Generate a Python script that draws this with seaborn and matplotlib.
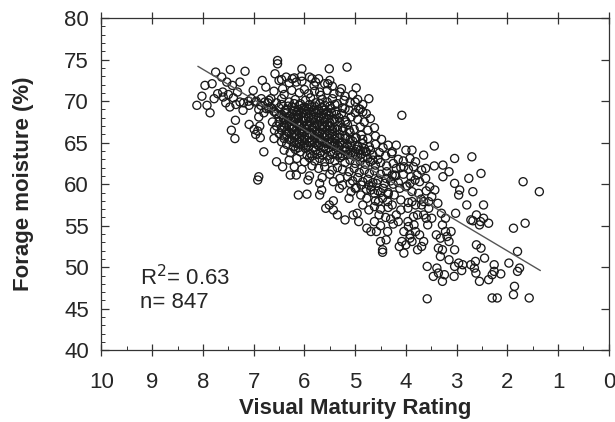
import numpy as np
import pandas as pd
import matplotlib
matplotlib.use("Agg")
import matplotlib.pyplot as plt
import seaborn as sns
from matplotlib.ticker import MultipleLocator

# points, grouped by region (rating, moisture)
left_pts = [(8.12, 69.5), (8.02, 70.6), (7.96, 71.9), (7.92, 69.5), (7.86, 68.6), (7.82, 72.1),
            (7.75, 73.5), (7.78, 70.3), (7.71, 70.9), (7.63, 72.9), (7.61, 71.1), (7.53, 72.3),
            (7.46, 73.8), (7.42, 71.9), (7.47, 69.3), (7.44, 66.5), (7.37, 65.5), (7.36, 67.7),
            (7.32, 71.1), (7.27, 72.3), (7.17, 73.6), (7.27, 69.9), (7.21, 68.9), (7.09, 69.5),
            (7.05, 70.3), (7.01, 71.3), (7.09, 67.2), (6.99, 66.6), (6.96, 66.0), (6.87, 65.6),
            (6.90, 68.1), (6.83, 72.5), (6.80, 63.9), (6.90, 60.9), (6.92, 60.5), (6.76, 71.7),
            (6.66, 70.3), (6.59, 68.7), (6.70, 69.1), (6.97, 69.9), (6.86, 69.5), (6.78, 69.9),
            (6.63, 67.5), (6.59, 66.5), (6.60, 65.5), (6.55, 62.7), (6.43, 62.1), (6.95, 70.0),
            (6.85, 70.3), (6.90, 69.0), (6.80, 68.6), (6.72, 69.8), (6.65, 69.2), (7.10, 70.0),
            (7.20, 69.8), (7.35, 69.6), (7.40, 70.4), (7.50, 70.8), (7.60, 70.5), (7.55, 69.8),
            (6.88, 67.0), (6.92, 66.4)]

top_pts = [(6.53, 74.9), (6.53, 74.5), (6.58, 73.3), (6.50, 72.5), (6.43, 71.5), (6.36, 72.9),
           (6.24, 72.7), (6.16, 72.3), (6.05, 73.9), (6.06, 73.0), (5.85, 72.7), (5.81, 71.9),
           (5.70, 71.1), (5.54, 72.1), (5.51, 73.9), (5.27, 71.5), (5.16, 74.1), (4.98, 71.6),
           (5.00, 69.9), (4.73, 70.3), (5.20, 69.1), (4.93, 69.1), (4.85, 68.7), (4.08, 68.3)]

gap_pts = [(6.28, 61.1), (6.16, 61.1), (6.12, 58.7), (5.95, 58.8), (5.93, 60.5)]

core_pts = [
    (6.45, 72.6), (6.30, 72.2), (6.20, 72.8), (6.05, 72.4), (5.90, 72.9), (5.78, 72.3), (5.72, 72.7),
    (5.60, 72.1), (5.50, 72.5), (5.45, 71.8),
    (6.60, 71.2), (6.40, 70.8), (6.25, 71.3), (6.10, 71.0), (6.00, 71.4), (5.92, 70.9), (5.80, 71.2),
    (5.68, 70.7), (5.55, 71.3), (5.42, 70.9), (5.30, 71.1), (5.20, 70.6), (5.05, 70.8),
    (6.70, 70.1), (6.55, 69.8), (6.45, 70.3), (6.30, 69.9), (6.18, 70.2), (6.08, 69.7), (5.98, 70.1),
    (5.88, 70.4), (5.78, 69.8), (5.65, 70.2), (5.55, 69.9), (5.45, 70.3), (5.35, 69.7), (5.22, 70.1),
    (5.10, 69.8), (4.95, 70.2), (4.85, 69.6),
    (6.75, 69.1), (6.60, 68.8), (6.50, 69.2), (6.38, 68.9), (6.25, 69.3), (6.15, 68.7), (6.05, 69.1),
    (5.95, 68.8), (5.85, 69.3), (5.75, 68.9), (5.65, 69.2), (5.55, 68.7), (5.48, 69.1), (5.38, 68.8),
    (5.25, 69.2), (5.12, 68.9), (5.00, 68.6), (4.90, 69.0), (4.78, 68.5),
    (6.50, 68.1), (6.40, 67.8), (6.30, 68.2), (6.20, 67.9), (6.12, 68.3), (6.02, 67.7), (5.92, 68.1),
    (5.82, 67.8), (5.72, 68.2), (5.62, 67.9), (5.52, 68.3), (5.42, 67.8), (5.32, 68.0), (5.20, 67.7),
    (5.08, 68.1), (4.95, 67.8), (4.82, 67.5), (4.70, 67.9),
    (6.55, 67.0), (6.45, 66.8), (6.35, 67.2), (6.25, 66.9), (6.15, 67.3), (6.05, 66.7), (5.95, 67.1),
    (5.85, 66.8), (5.75, 67.2), (5.65, 66.9), (5.55, 67.1), (5.45, 66.7), (5.35, 67.0), (5.25, 66.8),
    (5.15, 67.2), (5.02, 66.6), (4.90, 66.9), (4.75, 66.5), (4.62, 66.8),
    (6.50, 66.1), (6.40, 65.8), (6.30, 66.2), (6.20, 65.9), (6.10, 66.3), (6.00, 65.7), (5.90, 66.1),
    (5.80, 65.8), (5.70, 66.2), (5.60, 65.9), (5.50, 66.1), (5.40, 65.7), (5.30, 66.0), (5.20, 65.8),
    (5.10, 66.2), (5.00, 65.6), (4.88, 65.9), (4.75, 65.5), (4.60, 65.8), (4.48, 65.4),
    (6.45, 65.1), (6.35, 64.8), (6.25, 65.2), (6.15, 64.9), (6.05, 65.3), (5.95, 64.7), (5.85, 65.1),
    (5.75, 64.8), (5.65, 65.2), (5.55, 64.9), (5.45, 65.1), (5.35, 64.7), (5.25, 65.0), (5.15, 64.8),
    (5.05, 65.2), (4.95, 64.6), (4.85, 64.9), (4.72, 64.5), (4.60, 64.8), (4.45, 64.4), (4.35, 64.7),
    (6.40, 64.1), (6.28, 63.8), (6.18, 64.2), (6.08, 63.9), (5.98, 64.3), (5.88, 63.7), (5.78, 64.1),
    (5.68, 63.8), (5.58, 64.2), (5.48, 63.9), (5.38, 64.1), (5.28, 63.7), (5.18, 64.0), (5.08, 63.8),
    (4.98, 64.2), (4.88, 63.6), (4.78, 63.9), (4.65, 63.5), (4.52, 63.8), (4.40, 63.4), (4.28, 63.7),
    (6.30, 62.9), (6.15, 63.1), (6.00, 62.7), (5.90, 63.2), (5.80, 62.8), (5.70, 63.1), (5.60, 62.7),
    (5.50, 63.0), (5.40, 62.8), (5.30, 63.2), (5.20, 62.6), (5.10, 62.9), (5.00, 62.5), (4.90, 62.8),
    (4.80, 62.4), (4.70, 62.7), (4.60, 62.3), (4.50, 62.6), (4.38, 62.2), (4.25, 62.5),
    (6.20, 62.1), (6.05, 61.8), (5.85, 62.2), (5.72, 61.9), (5.60, 62.1), (5.45, 61.7), (5.35, 62.0),
    (5.25, 61.8), (5.12, 61.5), (5.02, 61.9), (4.92, 61.4), (4.82, 61.7), (4.72, 61.3), (4.62, 61.6),
    (4.50, 61.2), (4.38, 61.5), (4.22, 61.1),
    (5.90, 61.0), (5.65, 60.8), (5.50, 61.2), (5.30, 60.7), (5.15, 60.9), (5.05, 60.4), (4.95, 60.8),
    (4.85, 60.3), (4.75, 60.6), (4.65, 60.2), (4.55, 60.5), (4.42, 60.1), (4.30, 60.4),
    (5.25, 59.9), (5.10, 60.1), (4.98, 59.6), (4.88, 59.9), (4.78, 59.4), (4.68, 59.7), (4.55, 59.2),
    (4.45, 59.5), (4.35, 59.0),
]

dense_pts = [
    (6.45, 69.6), (6.32, 69.4), (6.20, 69.7), (6.10, 69.5), (6.00, 69.3), (5.90, 69.6), (5.80, 69.4),
    (5.70, 69.7), (5.60, 69.5), (5.50, 69.4), (5.40, 69.6),
    (6.55, 68.5), (6.45, 68.4), (6.35, 68.6), (6.25, 68.5), (6.15, 68.4), (6.05, 68.6), (5.97, 68.5),
    (5.87, 68.4), (5.77, 68.6), (5.67, 68.5), (5.57, 68.4), (5.47, 68.6), (5.37, 68.4), (5.27, 68.5),
    (6.50, 67.5), (6.40, 67.4), (6.30, 67.6), (6.20, 67.5), (6.10, 67.4), (6.00, 67.6), (5.90, 67.5),
    (5.80, 67.4), (5.70, 67.6), (5.60, 67.5), (5.50, 67.4), (5.40, 67.6), (5.30, 67.4), (5.18, 67.5),
    (6.45, 66.5), (6.35, 66.4), (6.25, 66.6), (6.15, 66.5), (6.05, 66.4), (5.95, 66.6), (5.85, 66.5),
    (5.75, 66.4), (5.65, 66.6), (5.55, 66.5), (5.45, 66.4), (5.35, 66.6), (5.25, 66.4), (5.12, 66.5),
    (6.40, 65.5), (6.30, 65.4), (6.20, 65.6), (6.10, 65.5), (6.00, 65.4), (5.90, 65.6), (5.80, 65.5),
    (5.70, 65.4), (5.60, 65.6), (5.50, 65.5), (5.40, 65.4), (5.30, 65.6), (5.20, 65.5), (5.10, 65.4),
    (4.98, 65.6), (4.85, 65.4),
    (6.22, 64.5), (6.12, 64.4), (6.02, 64.6), (5.92, 64.5), (5.82, 64.4), (5.72, 64.6), (5.62, 64.5),
    (5.52, 64.4), (5.42, 64.6), (5.32, 64.5), (5.20, 64.4), (5.08, 64.6), (4.95, 64.5), (4.82, 64.3),
    (4.70, 64.1),
    (5.95, 63.5), (5.85, 63.4), (5.75, 63.6), (5.65, 63.5), (5.55, 63.4), (5.45, 63.6), (5.35, 63.5),
    (5.25, 63.4), (5.15, 63.6), (5.05, 63.5), (4.95, 63.3), (4.85, 63.2), (4.75, 63.1), (4.65, 62.9),
    (4.55, 63.0),
]

# blackest part of the cloud
densest_pts = [
    (6.35, 69.0), (6.22, 68.9), (6.12, 69.0), (6.02, 68.95), (5.92, 69.05), (5.82, 68.95), (5.72, 69.0),
    (5.62, 68.9),
    (6.42, 68.0), (6.32, 67.95), (6.22, 68.05), (6.12, 67.95), (6.02, 68.05), (5.92, 67.95), (5.82, 68.05),
    (5.72, 67.95), (5.62, 68.05), (5.52, 67.9),
    (6.40, 67.0), (6.30, 67.05), (6.20, 66.95), (6.10, 67.05), (6.00, 66.95), (5.90, 67.05), (5.80, 66.95),
    (5.70, 67.05), (5.60, 66.95), (5.50, 67.0),
    (6.35, 66.0), (6.25, 66.05), (6.15, 65.95), (6.05, 66.05), (5.95, 65.95), (5.85, 66.05), (5.75, 65.95),
    (5.65, 66.05), (5.55, 65.95), (5.45, 66.0),
    (6.20, 65.0), (6.10, 65.05), (6.00, 64.95), (5.90, 65.05), (5.80, 64.95), (5.70, 65.05), (5.60, 64.95),
    (5.50, 65.0), (5.40, 64.9), (5.30, 65.0),
    (5.20, 64.0), (5.10, 64.1), (5.00, 63.9), (4.90, 64.1), (4.80, 63.9),
]

mid_pts = [
    (4.27, 63.9), (4.19, 64.7), (4.00, 64.1), (3.88, 64.1), (3.65, 63.5), (3.44, 64.6), (3.44, 62.2),
    (4.46, 52.1), (4.46, 51.8), (4.50, 53.1), (4.39, 53.3), (4.58, 54.3), (4.69, 54.3), (4.77, 54.7),
    (4.62, 55.5), (4.36, 54.3), (4.53, 56.3), (4.36, 57.9), (4.46, 58.3), (4.27, 57.5), (4.19, 56.3),
    (4.15, 55.5), (4.23, 58.7), (4.12, 59.5), (4.00, 59.7), (3.92, 60.1), (3.82, 60.5), (3.73, 60.3),
    (3.61, 60.7), (3.69, 61.7), (3.61, 61.9), (3.81, 62.7), (3.92, 63.1), (4.04, 62.1), (4.19, 61.9),
    (4.27, 61.1), (4.39, 60.7), (3.88, 57.9), (3.96, 57.1), (3.81, 57.5), (3.77, 56.3), (3.49, 55.9),
    (3.57, 55.1), (3.22, 54.3), (3.19, 53.7),
    (5.04, 56.3), (4.96, 56.5), (4.93, 55.5), (5.20, 55.7), (5.35, 56.3), (5.43, 56.9), (5.51, 57.5),
    (5.58, 57.1), (5.43, 58.0), (5.31, 59.5), (5.43, 60.3), (5.70, 60.1), (5.66, 59.3), (5.70, 58.7),
    (5.12, 58.3), (5.08, 59.1), (5.00, 59.5), (4.89, 58.7), (4.77, 58.3), (4.69, 59.3), (4.62, 58.9),
    (4.73, 59.9), (4.58, 60.1), (4.85, 57.5), (4.73, 56.9), (4.62, 57.3), (4.54, 57.9),
    (4.15, 63.0), (4.05, 62.8), (4.10, 62.0), (3.95, 61.8), (3.85, 62.1), (4.20, 61.0), (4.05, 61.2),
    (3.90, 60.9), (3.78, 61.1), (4.25, 60.0), (4.15, 60.2), (3.98, 59.8), (4.50, 59.0), (4.35, 58.8),
    (3.88, 59.1), (3.75, 58.9), (3.60, 59.2), (4.60, 58.0), (4.10, 58.1), (3.95, 57.8), (3.70, 58.2),
    (3.55, 57.9), (4.50, 57.0), (4.35, 57.2), (4.10, 56.9), (3.55, 57.1), (4.40, 56.0), (4.30, 55.8),
    (3.85, 56.1), (3.60, 55.9), (4.50, 55.0), (4.25, 55.2), (3.95, 54.9),
]

right_pts = [
    (3.27, 62.3), (3.27, 60.9), (3.15, 61.5), (3.04, 63.1), (3.04, 60.1), (2.94, 59.3), (2.96, 58.7),
    (3.02, 56.5), (2.80, 57.5), (2.76, 60.7), (2.70, 63.3), (2.68, 59.1), (2.52, 61.3), (2.47, 57.5),
    (2.72, 55.7), (2.61, 56.3), (2.53, 55.5), (2.47, 55.9), (2.37, 55.3), (2.55, 55.1), (2.68, 55.6),
    (2.61, 52.7), (2.52, 52.3), (2.45, 51.1), (2.63, 50.7), (2.72, 50.3), (2.88, 50.3), (2.96, 50.5),
    (3.04, 50.1), (2.90, 49.6), (2.65, 49.9), (2.62, 49.3), (2.55, 48.3), (2.37, 48.5), (2.30, 49.1),
    (2.26, 50.3), (2.26, 49.5), (2.13, 49.2), (2.30, 46.3), (2.20, 46.3), (1.97, 50.5), (1.88, 54.7),
    (1.80, 51.9), (1.80, 49.5), (1.76, 49.9), (1.86, 47.7), (1.88, 46.7), (1.65, 55.3), (1.69, 60.3),
    (1.37, 59.1), (1.57, 46.3), (3.58, 46.2), (3.58, 50.1), (3.46, 48.9), (3.39, 49.9), (3.36, 49.3),
    (3.28, 48.3), (3.24, 49.1), (3.05, 48.9), (3.15, 50.9), (3.04, 52.1), (3.32, 51.3), (3.28, 52.1),
    (3.36, 52.3), (3.40, 53.9), (3.32, 53.5), (3.15, 53.1), (3.11, 54.3), (3.28, 55.1), (3.22, 55.9),
    (3.30, 56.5), (3.37, 57.7), (3.49, 58.5), (3.43, 59.3), (3.53, 59.7), (3.65, 57.9), (3.65, 56.3),
    (3.69, 57.5), (3.81, 54.3), (3.73, 53.9), (3.65, 53.1), (3.69, 52.5), (3.77, 52.1), (3.88, 53.1),
    (3.92, 53.5), (3.84, 55.1), (3.96, 55.5), (4.04, 54.3), (4.08, 53.1), (4.13, 52.5), (4.04, 51.7),
    (4.00, 52.7), (3.92, 53.9),
]

# fitted line end points
fit_x = [8.1, 1.35]
fit_y = [74.2, 49.6]

all_pts = left_pts + top_pts + gap_pts + core_pts + dense_pts + densest_pts + mid_pts + right_pts
df = pd.DataFrame(all_pts, columns=["rating", "moisture"])

sns.set_style("ticks")
plt.rcParams["font.family"] = ["Liberation Sans", "DejaVu Sans"]

fig = plt.figure(figsize=(6.15, 4.22), dpi=100)
ax = fig.add_axes([0.165, 0.17, 0.825, 0.787])

sns.scatterplot(data=df, x="rating", y="moisture", ax=ax, s=34,
                facecolor="none", edgecolor="#1a1a1a", linewidth=0.95)
ax.plot(fit_x, fit_y, color="#555555", lw=1.0)

ax.set_xlim(10, 0)
ax.set_ylim(40, 80)
ax.xaxis.set_major_locator(MultipleLocator(1))
ax.xaxis.set_minor_locator(MultipleLocator(0.5))
ax.yaxis.set_major_locator(MultipleLocator(5))
ax.yaxis.set_minor_locator(MultipleLocator(1))
ax.tick_params(axis="both", which="major", labelsize=16, length=6, width=0.9, direction="in",
               top=True, right=True, color="#333333")
ax.tick_params(axis="y", which="major", pad=9)
ax.tick_params(axis="x", which="major", direction="inout", length=8, pad=12)
ax.tick_params(axis="both", which="minor", length=3, width=0.7, direction="in", color="#333333")
ax.tick_params(axis="y", which="minor", right=False)
ax.tick_params(axis="x", which="minor", top=False)
for sp in ax.spines.values():
    sp.set_visible(True)
    sp.set_linewidth(0.9)
    sp.set_color("#333333")

ax.set_xlabel("Visual Maturity Rating", fontsize=16, fontweight="bold")
ax.set_ylabel("Forage moisture (%)", fontsize=16, fontweight="bold", va="center")
ax.xaxis.set_label_coords(0.5, -0.145)
ax.yaxis.set_label_coords(-0.153, 0.5)
ax.text(9.25, 48.8, "R$^2$= 0.63", fontsize=16, va="center", ha="left")
ax.text(9.25, 45.8, "n= 847", fontsize=16, va="center", ha="left")

fig.savefig("out.png", dpi=100)
